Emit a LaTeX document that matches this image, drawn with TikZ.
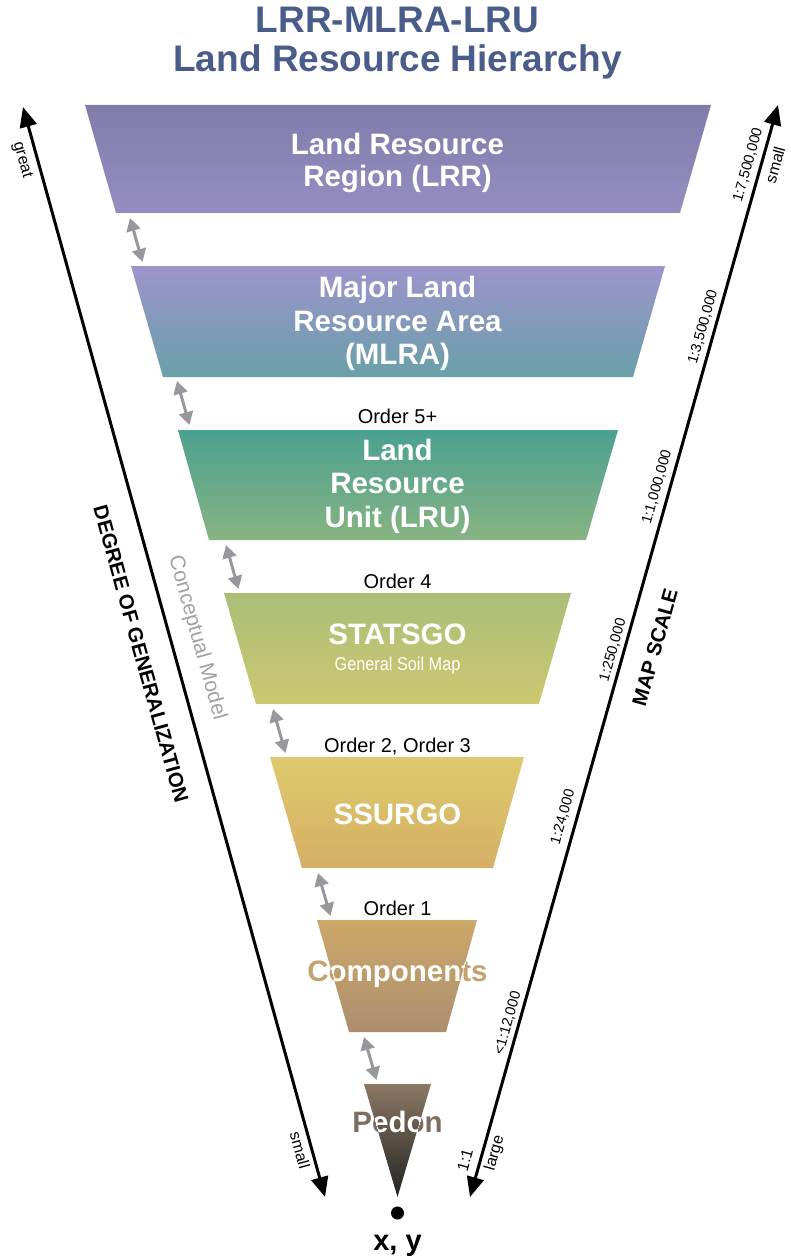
\documentclass[tikz,border=0pt]{standalone}
\usepackage{fontspec}
\setmainfont{Liberation Sans}
\usetikzlibrary{arrows.meta}
\definecolor{titleblue}{RGB}{74,92,138}
\definecolor{arrowgray}{RGB}{150,152,158}
\definecolor{cmgray}{RGB}{160,160,166}
\definecolor{lrrT}{RGB}{128,124,170}
\definecolor{lrrB}{RGB}{150,142,195}
\definecolor{mlraT}{RGB}{157,148,204}
\definecolor{mlraB}{RGB}{105,160,168}
\definecolor{lruT}{RGB}{75,160,145}
\definecolor{lruB}{RGB}{135,180,130}
\definecolor{stT}{RGB}{170,190,120}
\definecolor{stB}{RGB}{205,200,112}
\definecolor{ssT}{RGB}{222,202,110}
\definecolor{ssB}{RGB}{212,175,100}
\definecolor{coT}{RGB}{205,168,105}
\definecolor{coB}{RGB}{172,142,110}
\definecolor{coOut}{RGB}{196,162,110}
\definecolor{peT}{RGB}{140,120,100}
\definecolor{peB}{RGB}{35,35,35}
\definecolor{peOut}{RGB}{125,110,95}
\begin{document}
\begin{tikzpicture}[x=1pt,y=-1pt,
  lbl/.style={text=white,font=\bfseries\fontsize{29.5}{29.5}\selectfont,anchor=base,inner sep=0pt},
  sublbl/.style={text=white,font=\fontsize{18.5}{18.5}\selectfont,xscale=0.88,anchor=base,inner sep=0pt},
  orderlbl/.style={font=\fontsize{20}{20}\selectfont,anchor=base,inner sep=0pt},
  titlelbl/.style={text=titleblue,font=\bfseries\fontsize{37}{37}\selectfont,anchor=base,inner sep=0pt},
  axisline/.style={line width=3pt,{Triangle[length=20pt,width=17pt]}-{Triangle[length=20pt,width=17pt]}},
  linkarrow/.style={draw=arrowgray,line width=3pt,{Triangle[length=13pt,width=14pt]}-{Triangle[length=13pt,width=14pt]}},
  sclR/.style={font=\fontsize{14.5}{14.5}\selectfont,rotate=74.25,inner sep=0pt},
  wordR/.style={font=\fontsize{16}{16}\selectfont,rotate=74.25,inner sep=0pt},
  wordL/.style={font=\fontsize{16}{16}\selectfont,rotate=-74.5,inner sep=0pt},
  bigR/.style={font=\bfseries\fontsize{20.5}{20.5}\selectfont,rotate=74.25,inner sep=0pt},
  bigL/.style={font=\bfseries\fontsize{20.5}{20.5}\selectfont,rotate=-74.5,inner sep=0pt},
]
\useasboundingbox (0,0) rectangle (790,1257);

% title
\node[titlelbl] (t1) at (397.5,33) {LRR-MLRA-LRU};
\node[titlelbl] (t2) at (397.5,72) {Land Resource Hierarchy};

% levels
\shade[top color=lrrT,bottom color=lrrB] (85,105) -- (711,105) -- (680,213) -- (116,213) -- cycle;
\shade[top color=mlraT,bottom color=mlraB] (131,266) -- (665,266) -- (633,377) -- (163,377) -- cycle;
\shade[top color=lruT,bottom color=lruB] (178,430) -- (618,430) -- (586,540) -- (209,540) -- cycle;
\shade[top color=stT,bottom color=stB] (224,593) -- (571,593) -- (539,704) -- (256,704) -- cycle;
\shade[top color=ssT,bottom color=ssB] (270,757) -- (524,757) -- (493,868) -- (302,868) -- cycle;
\shade[top color=coT,bottom color=coB] (317,920) -- (477,920) -- (446,1032) -- (349,1032) -- cycle;
\shade[top color=peT,bottom color=peB] (364,1084) -- (431,1084) -- (397.5,1197) -- cycle;

% level labels
\node[lbl] (lrr1) at (397.5,155) {Land Resource};
\node[lbl] (lrr2) at (397.5,187) {Region (LRR)};
\node[lbl] (mlra1) at (397.5,297) {Major Land};
\node[lbl] (mlra2) at (397.5,331) {Resource Area};
\node[lbl] (mlra3) at (397.5,364) {(MLRA)};
\node[orderlbl] (o5) at (397.5,423) {Order 5+};
\node[lbl] (lru1) at (397.5,460) {Land};
\node[lbl] (lru2) at (397.5,493) {Resource};
\node[lbl] (lru3) at (397.5,527) {Unit (LRU)};
\node[orderlbl] (o4) at (397.5,588) {Order 4};
\node[lbl] (st1) at (397.5,644) {STATSGO};
\node[sublbl] (st2) at (397.5,670) {General Soil Map};
\node[orderlbl] (o23) at (397.5,752) {Order 2, Order 3};
\node[lbl] (ss1) at (397.5,824) {SSURGO};
\node[orderlbl] (o1) at (397.5,915) {Order 1};

\node[lbl,text=coOut] (co1) at (397.5,981) {Components};
\begin{scope}
\clip (317,920) -- (477,920) -- (446,1032) -- (349,1032) -- cycle;
\node[lbl] (co1w) at (397.5,981) {Components};
\end{scope}
\node[lbl,text=peOut] (pe1) at (397.5,1132) {Pedon};
\begin{scope}
\clip (364,1084) -- (431,1084) -- (397.5,1197) -- cycle;
\node[lbl] (pe1w) at (397.5,1132) {Pedon};
\end{scope}

% point
\node[circle,fill=black,inner sep=0pt,minimum size=13pt] (pt) at (397.5,1213) {};
\node[font=\bfseries\fontsize{29}{29}\selectfont,anchor=base,inner sep=0pt] (xy) at (397.5,1250) {x, y};

% link arrows between levels
\coordinate (a1s) at (130,218);  \coordinate (a1e) at (142.5,262);
\coordinate (a2s) at (177,381);  \coordinate (a2e) at (189.5,425);
\coordinate (a3s) at (226,545);  \coordinate (a3e) at (238.5,589);
\coordinate (a4s) at (273,709);  \coordinate (a4e) at (285.5,753);
\coordinate (a5s) at (318,873);  \coordinate (a5e) at (330.5,916);
\coordinate (a6s) at (364,1037); \coordinate (a6e) at (376.5,1080);
\draw[linkarrow] (a1s) -- (a1e);
\draw[linkarrow] (a2s) -- (a2e);
\draw[linkarrow] (a3s) -- (a3e);
\draw[linkarrow] (a4s) -- (a4e);
\draw[linkarrow] (a5s) -- (a5e);
\draw[linkarrow] (a6s) -- (a6e);

% axes
\coordinate (gtop) at (23,107);  \coordinate (gbot) at (325,1197);
\coordinate (stop) at (778,105); \coordinate (sbot) at (470,1197);
\draw[axisline] (gtop) -- (gbot);
\draw[axisline] (sbot) -- (stop);

% left axis labels
\node[wordL] (great) at (22,160) {great};
\node[bigL] (dog) at (141,654) {DEGREE OF GENERALIZATION};
\node[bigL,font=\fontsize{21}{21}\selectfont,text=cmgray] (cm) at (197,638) {Conceptual Model};
\node[wordL] (smallL) at (300,1150) {small};

% right axis labels
\node[wordR] (smallR) at (775,165) {small};
\node[sclR] (s75) at (748,165) {1:7,500,000};
\node[sclR] (s35) at (703,327) {1:3,500,000};
\node[sclR] (s10) at (657,487) {1:1,000,000};
\node[bigR] (ms) at (655,647) {MAP SCALE};
\node[sclR] (s250) at (613,650) {1:250,000};
\node[sclR] (s24) at (563,817) {1:24,000};
\node[sclR] (s12) at (508,1023) {<1:12,000};
\node[wordR] (s11) at (465,1160) {1:1};
\node[wordR] (large) at (495,1153) {large};
\end{tikzpicture}
\end{document}
